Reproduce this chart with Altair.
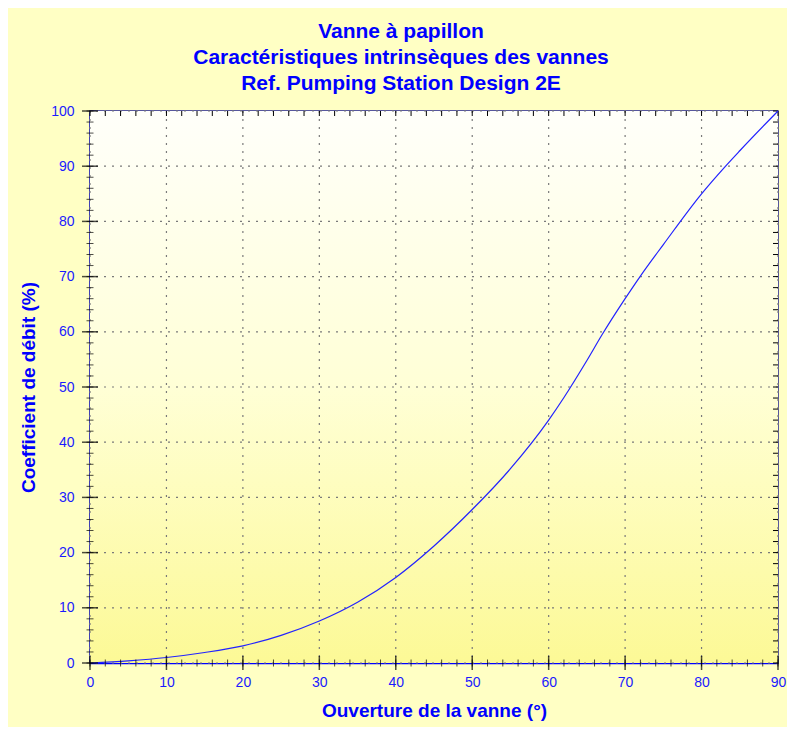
import altair as alt
import pandas as pd

# Curve values
opening = [0, 5, 10, 15, 20, 25, 30, 35, 40, 45, 50, 55, 60, 62, 65, 67, 70, 72, 75, 80, 83, 85, 90]
coef = [0, 0.4, 1.0, 1.9, 3.1, 5.0, 7.6, 11.0, 15.5, 21.2, 27.8, 35.2, 44.0, 48.1, 54.8, 59.5, 66.0, 70.1, 75.8, 85.0, 89.8, 92.8, 100]

x_major = list(range(0, 91, 10))
x_minor = list(range(0, 91, 2))
y_major = list(range(0, 101, 10))
y_minor = list(range(0, 101, 2))

W, H = 688, 552
BLUE = "#0000FF"
FONT = "Liberation Sans"

curve = pd.DataFrame({"x": opening, "y": coef})
xmaj = pd.DataFrame({"x": x_major})
xmin = pd.DataFrame({"x": x_minor})
ymaj = pd.DataFrame({"y": y_major})
ymin = pd.DataFrame({"y": y_minor})

xs = alt.Scale(domain=[0, 90], nice=False, zero=False)
ys = alt.Scale(domain=[0, 100], nice=False, zero=False)

x_axis = alt.Axis(values=x_major, title="Ouverture de la vanne (°)", grid=False, ticks=False,
                  domainColor=BLUE, domainWidth=1.5, labelColor="#1a1aff", labelFontSize=14,
                  labelPadding=12, labelFlush=False, titleColor=BLUE, titleFontSize=19,
                  titleFontWeight="bold", titlePadding=12, labelFont=FONT, titleFont=FONT)
y_axis = alt.Axis(values=y_major, title="Coefficient de débit (%)", grid=False, ticks=False,
                  domainColor=BLUE, domainWidth=1.5, labelColor="#1a1aff", labelFontSize=14,
                  labelPadding=16, labelFlush=False, titleColor=BLUE, titleFontSize=19,
                  titleFontWeight="bold", titlePadding=12, labelFont=FONT, titleFont=FONT)

bg = alt.Chart(pd.DataFrame({"a": [0]})).mark_rect(
    color=alt.Gradient(gradient="linear", x1=0, x2=0, y1=0, y2=1,
                       stops=[alt.GradientStop(offset=0, color="#FFFFFA"),
                              alt.GradientStop(offset=0.5, color="#FFFFD6"),
                              alt.GradientStop(offset=1, color="#FCF996")])
).encode(x=alt.value(0), x2=alt.value(W), y=alt.value(0), y2=alt.value(H))

grid_v = alt.Chart(xmaj).mark_rule(color="#7a7a7a", strokeDash=[2, 6], strokeWidth=1.2).encode(
    x=alt.X("x:Q", scale=xs, axis=x_axis))
grid_h = alt.Chart(ymaj).mark_rule(color="#7a7a7a", strokeDash=[2, 6], strokeWidth=1.2).encode(
    y=alt.Y("y:Q", scale=ys, axis=y_axis))

line = alt.Chart(curve).mark_line(color="#2222FF", strokeWidth=1.2, interpolate="monotone").encode(
    x=alt.X("x:Q", scale=xs, axis=x_axis), y=alt.Y("y:Q", scale=ys, axis=y_axis))

tk_xmin = alt.Chart(xmin).mark_tick(color="black", size=7, thickness=1).encode(
    x=alt.X("x:Q", scale=xs), y=alt.value(H))
tk_xmaj = alt.Chart(xmaj).mark_tick(color="black", size=14, thickness=1.5).encode(
    x=alt.X("x:Q", scale=xs), y=alt.value(H))
tk_ymin = alt.Chart(ymin).mark_tick(color="black", size=7, thickness=1).encode(
    y=alt.Y("y:Q", scale=ys), x=alt.value(0))
tk_ymaj = alt.Chart(ymaj).mark_tick(color="black", size=16, thickness=1.5).encode(
    y=alt.Y("y:Q", scale=ys), x=alt.value(0))
tk_top = alt.Chart(xmin).mark_rule(color="black", strokeWidth=1).encode(
    x=alt.X("x:Q", scale=xs), y=alt.value(0), y2=alt.value(5))
tk_right = alt.Chart(ymin).mark_rule(color="black", strokeWidth=1).encode(
    y=alt.Y("y:Q", scale=ys), x=alt.value(W - 5), x2=alt.value(W))

chart = alt.layer(bg, grid_v, grid_h, tk_top, tk_right, line, tk_xmin, tk_xmaj, tk_ymin, tk_ymaj).properties(
    width=W, height=H,
    background="#FFFFC4",
    padding={"left": 82, "top": 103, "right": 9, "bottom": 64},
    autosize=alt.AutoSizeParams(type="none"),
    title=alt.TitleParams(
        text=["Vanne à papillon", "Caractéristiques intrinsèques des vannes", "Ref. Pumping Station Design 2E"],
        color=BLUE, font=FONT, fontSize=21, fontWeight="bold", lineHeight=26,
        anchor="middle", dx=-33, offset=10),
).configure_view(stroke="#202090", strokeWidth=1.5)

chart.save("out.html", embed_options={"renderer": "svg", "actions": False})
